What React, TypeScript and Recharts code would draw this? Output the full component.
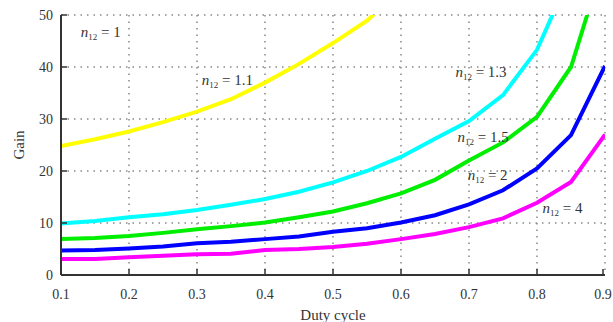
import React from "react";
import { LineChart, Line, XAxis, YAxis, CartesianGrid, ReferenceDot } from "recharts";

const duty = [0.1, 0.15, 0.2, 0.25, 0.3, 0.35, 0.4, 0.45, 0.5, 0.55, 0.6, 0.65, 0.7, 0.75, 0.8, 0.85, 0.9];

const gain1 = [24.8, 26.1, 27.6, 29.4, 31.4, 33.8, 37.0, 40.6, 44.6, 48.9, 55, null, null, null, null, null, null];
const gain11 = [9.9, 10.4, 11.1, 11.7, 12.5, 13.5, 14.6, 16.0, 17.8, 20.0, 22.7, 26.2, 29.6, 34.6, 43.3, 58, null];
const gain15 = [6.9, 7.1, 7.5, 8.1, 8.8, 9.4, 10.1, 11.1, 12.2, 13.8, 15.7, 18.3, 22.0, 25.5, 30.4, 40.0, 61];
const gain2 = [4.7, 4.8, 5.1, 5.5, 6.1, 6.4, 6.9, 7.4, 8.3, 9.0, 10.1, 11.5, 13.6, 16.3, 20.5, 26.9, 40.2];
const gain4 = [3.1, 3.1, 3.4, 3.7, 4.0, 4.1, 4.8, 5.0, 5.4, 6.0, 6.9, 7.9, 9.2, 10.9, 13.9, 17.9, 27.0];

const xTicks = [0.1, 0.2, 0.3, 0.4, 0.5, 0.6, 0.7, 0.8, 0.9];
const yTicks = [0, 10, 20, 30, 40, 50];

// curve labels (data coordinates of the text start)
const labels = [
  { x: 0.129, y: 46.7, value: "1" },
  { x: 0.307, y: 37.5, value: "1.1" },
  { x: 0.68, y: 39, value: "1.3" },
  { x: 0.683, y: 26.5, value: "1.5" },
  { x: 0.698, y: 19.2, value: "2" },
  { x: 0.808, y: 12.9, value: "4" },
];

const data = duty.map((d, i) => ({
  d,
  a: gain1[i],
  b: gain11[i],
  c: gain15[i],
  e: gain2[i],
  f: gain4[i],
}));

const FONT = "'Liberation Serif', 'Times New Roman', serif";
const INK = "#333";

function BottomTick(props: any) {
  const { x, y, payload } = props;
  const axisY = y - 14;
  return (
    <g>
      <line x1={x} x2={x} y1={axisY} y2={axisY - 6} stroke={INK} strokeWidth={1.5} />
      <text x={x} y={y} dy="0.71em" textAnchor="middle" fontSize={14} fill={INK} fontFamily={FONT}>
        {payload.value}
      </text>
    </g>
  );
}

function LeftTick(props: any) {
  const { x, y, payload } = props;
  const axisX = x + 8;
  return (
    <g>
      <line x1={axisX} x2={axisX + 6} y1={y} y2={y} stroke={INK} strokeWidth={1.5} />
      <text x={x} y={y} dy="0.35em" textAnchor="end" fontSize={14} fill={INK} fontFamily={FONT}>
        {payload.value}
      </text>
    </g>
  );
}

function TopTick(props: any) {
  const { x, y } = props;
  return <line x1={x} x2={x} y1={y} y2={y + 6} stroke={INK} strokeWidth={1.5} />;
}

function RightTick(props: any) {
  const { x, y } = props;
  return <line x1={x} x2={x - 6} y1={y} y2={y} stroke={INK} strokeWidth={1.5} />;
}

function CurveLabel(props: any) {
  const { viewBox, value } = props;
  const x = viewBox.x + viewBox.width / 2;
  const y = viewBox.y + viewBox.height / 2;
  return (
    <text x={x} y={y} dy="0.35em" fontSize={15} fill={INK} fontFamily={FONT}>
      <tspan fontStyle="italic">n</tspan>
      <tspan fontSize={9} dy="3">12</tspan>
      <tspan dy="-3"> = {value}</tspan>
    </text>
  );
}

export default function App() {
  return (
    <div style={{ width: 613, height: 322, background: "#fff" }}>
      <style>{`body{margin:0;}`}</style>
      <LineChart width={613} height={322} data={data} margin={{ top: 15, right: 8, left: 0, bottom: 0 }}>
        <CartesianGrid stroke="#888" strokeDasharray="1.5 5" strokeWidth={1.5} />
        <XAxis
          dataKey="d"
          type="number"
          domain={[0.1, 0.9]}
          ticks={xTicks}
          allowDataOverflow
          height={47}
          tickSize={0}
          tickMargin={14}
          tick={<BottomTick />}
          axisLine={{ stroke: INK, strokeWidth: 2 }}
          tickLine={false}
          label={{ value: "Duty cycle", position: "insideBottom", offset: 2, fontSize: 15, fill: INK, fontFamily: FONT }}
        />
        <XAxis
          xAxisId="top"
          orientation="top"
          dataKey="d"
          type="number"
          domain={[0.1, 0.9]}
          ticks={xTicks}
          allowDataOverflow
          height={0}
          tickSize={0}
          tickMargin={0}
          tick={<TopTick />}
          axisLine={{ stroke: INK, strokeWidth: 2 }}
          tickLine={false}
        />
        <YAxis
          type="number"
          domain={[0, 50]}
          ticks={yTicks}
          allowDataOverflow
          width={61}
          tickSize={0}
          tickMargin={8}
          tick={<LeftTick />}
          axisLine={{ stroke: INK, strokeWidth: 2 }}
          tickLine={false}
          label={{ value: "Gain", angle: -90, position: "center", dx: -12, fontSize: 15, fill: INK, fontFamily: FONT }}
        />
        <YAxis
          yAxisId="right"
          orientation="right"
          type="number"
          domain={[0, 50]}
          ticks={yTicks}
          allowDataOverflow
          width={0}
          tickSize={0}
          tickMargin={0}
          tick={<RightTick />}
          axisLine={{ stroke: INK, strokeWidth: 2 }}
          tickLine={false}
        />
        <Line dataKey="a" type="linear" stroke="#ffff00" strokeWidth={4} dot={false} isAnimationActive={false} />
        <Line dataKey="b" type="linear" stroke="#00ffff" strokeWidth={4} dot={false} isAnimationActive={false} />
        <Line dataKey="c" type="linear" stroke="#00ee00" strokeWidth={4} dot={false} isAnimationActive={false} />
        <Line dataKey="e" type="linear" stroke="#0000ff" strokeWidth={4} dot={false} isAnimationActive={false} />
        <Line dataKey="f" type="linear" stroke="#ff00ff" strokeWidth={4} dot={false} isAnimationActive={false} />
        {labels.map((l) => (
          <ReferenceDot
            key={l.value}
            x={l.x}
            y={l.y}
            r={0}
            fill="none"
            stroke="none"
            label={<CurveLabel value={l.value} />}
          />
        ))}
      </LineChart>
    </div>
  );
}
